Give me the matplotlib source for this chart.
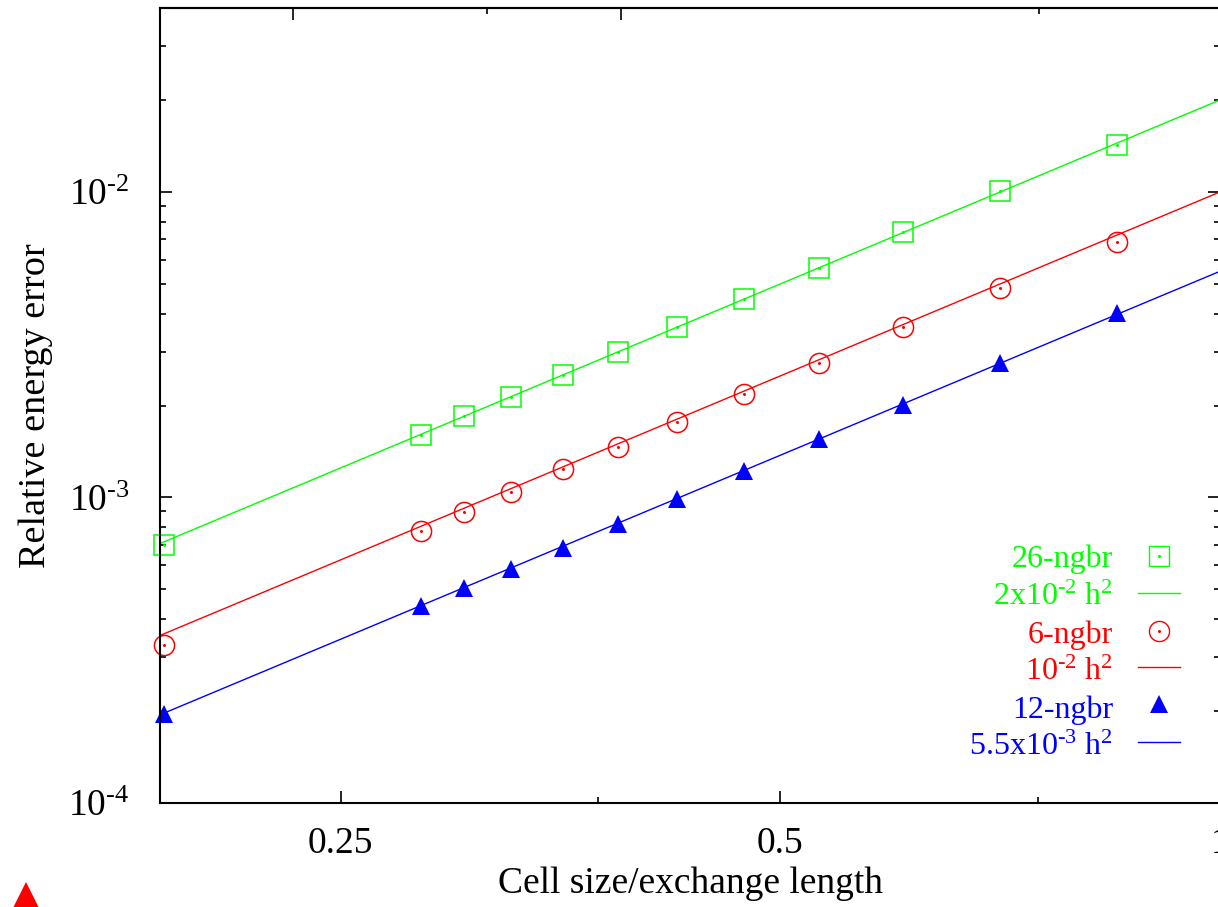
import matplotlib
matplotlib.use('Agg')
import matplotlib.pyplot as plt
from matplotlib.lines import Line2D
from matplotlib.ticker import FixedLocator, NullFormatter, LogLocator, FuncFormatter
import numpy as np

plt.rcParams['font.family'] = ['Liberation Serif', 'DejaVu Serif']
plt.rcParams['mathtext.fontset'] = 'custom'
plt.rcParams['mathtext.rm'] = 'Liberation Serif'
plt.rcParams['mathtext.it'] = 'Liberation Serif:italic'
plt.rcParams['mathtext.default'] = 'regular'
plt.rcParams['axes.unicode_minus'] = False

# cell size / exchange length
h = [0.1893, 0.2835, 0.3035, 0.327, 0.3547, 0.3868, 0.425, 0.472, 0.531, 0.607, 0.707, 0.850]
# relative energy error
err_26 = [6.99e-4, 1.603e-3, 1.849e-3, 2.133e-3, 2.518e-3, 2.993e-3, 3.615e-3, 4.46e-3, 5.64e-3, 7.40e-3, 1.008e-2, 1.425e-2]
err_6 = [3.29e-4, 7.77e-4, 8.97e-4, 1.042e-3, 1.24e-3, 1.46e-3, 1.77e-3, 2.18e-3, 2.75e-3, 3.61e-3, 4.85e-3, 6.86e-3]
err_12 = [1.955e-4, 4.41e-4, 5.06e-4, 5.83e-4, 6.84e-4, 8.19e-4, 9.89e-4, 1.22e-3, 1.553e-3, 2.01e-3, 2.76e-3, 4.02e-3]
# fit coefficients  c * h^2
c_26, c_6, c_12 = 2e-2, 1e-2, 5.5e-3

xlim = [0.188, 1.0]
ylim = [1e-4, 0.04]

GREEN, RED, BLUE = '#00ff00', '#ff0000', '#0000ff'
HY = '\u2010'  # plain hyphen for exponents (gnuplot look)

fig = plt.figure(figsize=(12.18, 9.07), dpi=100)
W, H = 1218, 907
ax = fig.add_axes([160 / W, 1 - 803 / H, 1060 / W, 795 / H])
ax.set_xscale('log')
ax.set_yscale('log')
ax.set_xlim(xlim)
ax.set_ylim(ylim)

h_line = np.array(xlim)
lw = 1.0
ax.plot(h_line, c_26 * h_line**2, color=GREEN, lw=lw)
ax.plot(h_line, c_6 * h_line**2, color=RED, lw=lw)
ax.plot(h_line, c_12 * h_line**2, color=BLUE, lw=lw)

ax.plot(h, err_26, ls='none', marker='s', ms=14.5, mfc='none', mec=GREEN, mew=1.1, clip_on=False)
ax.plot(h, err_26, ls='none', marker='o', ms=1.2, mfc=GREEN, mec=GREEN, clip_on=False)
ax.plot(h, err_6, ls='none', marker='o', ms=14.5, mfc='none', mec=RED, mew=1.1, clip_on=False)
ax.plot(h, err_6, ls='none', marker='o', ms=1.2, mfc=RED, mec=RED, clip_on=False)
ax.plot(h, err_12, ls='none', marker='^', ms=13, mfc=BLUE, mec=BLUE, mew=0, clip_on=False)

# ticks
ax.xaxis.set_major_locator(FixedLocator([0.25, 0.5, 1.0]))
ax.set_xticklabels(['0.25', '0.5', '1'])
ax.xaxis.set_minor_locator(FixedLocator([0.375, 0.75]))
ax.xaxis.set_minor_formatter(NullFormatter())
ax.yaxis.set_major_locator(LogLocator(base=10))
ax.yaxis.set_major_formatter(FuncFormatter(
    lambda v, p: r'10$^{%s%d}$' % (HY, -int(round(np.log10(v))))))
ax.yaxis.set_minor_locator(LogLocator(base=10, subs=np.arange(2, 10)))
ax.yaxis.set_minor_formatter(NullFormatter())
ax.tick_params(which='both', direction='in', top=False, right=True, width=1.2, labelsize=27)
ax.tick_params(which='major', length=8.5)
ax.tick_params(which='minor', length=4)
ax.tick_params(axis='x', pad=17)
ax.tick_params(axis='y', pad=22)

secax = ax.secondary_xaxis('top')
secax.xaxis.set_major_locator(FixedLocator([0.232, 0.389]))
secax.xaxis.set_minor_locator(FixedLocator([0.315, 0.752]))
secax.xaxis.set_major_formatter(NullFormatter())
secax.xaxis.set_minor_formatter(NullFormatter())
secax.tick_params(which='both', direction='in', width=1.2)
secax.tick_params(which='major', length=8.5)
secax.tick_params(which='minor', length=4)
secax.spines['top'].set_linewidth(1.5)

for s in ax.spines.values():
    s.set_linewidth(1.5)

ax.set_xlabel('Cell size/exchange length', fontsize=27, labelpad=4)
ax.set_ylabel('Relative energy error', fontsize=27.5, labelpad=11)


# key (drawn by hand, gnuplot style: right-aligned text, sample to the right)
def fy(py):
    return (803 - py) / 795


def fx(px):
    return (px - 160) / 1060


tkw = dict(transform=ax.transAxes, ha='right', va='baseline', fontsize=23)
ax.text(fx(1113), fy(567), '26-ngbr', color=GREEN, **tkw)
ax.text(fx(1113), fy(605), r'2x10$^{%s2}$ h$^{2}$' % HY, color=GREEN, **tkw)
ax.text(fx(1113), fy(643), '6-ngbr', color=RED, **tkw)
ax.text(fx(1113), fy(680), r'10$^{%s2}$ h$^{2}$' % HY, color=RED, **tkw)
ax.text(fx(1113), fy(718), '12-ngbr', color=BLUE, **tkw)
ax.text(fx(1113), fy(755), r'5.5x10$^{%s3}$ h$^{2}$' % HY, color=BLUE, **tkw)

lkw = dict(transform=ax.transAxes, clip_on=False)
ax.plot([fx(1159)], [fy(556)], marker='s', ms=14.5, mfc='none', mec=GREEN, mew=1.0, **lkw)
ax.plot([fx(1159)], [fy(556)], marker='o', ms=1.2, color=GREEN, **lkw)
ax.plot([fx(1138), fx(1180)], [fy(593)] * 2, color=GREEN, lw=lw, **lkw)
ax.plot([fx(1159)], [fy(631)], marker='o', ms=14.5, mfc='none', mec=RED, mew=1.0, **lkw)
ax.plot([fx(1159)], [fy(631)], marker='o', ms=1.2, color=RED, **lkw)
ax.plot([fx(1138), fx(1180)], [fy(667)] * 2, color=RED, lw=lw, **lkw)
ax.plot([fx(1159)], [fy(704)], marker='^', ms=13, color=BLUE, mew=0, **lkw)
ax.plot([fx(1138), fx(1180)], [fy(742)] * 2, color=BLUE, lw=lw, **lkw)

# stray red point symbol at the bottom-left corner of the page
fig.add_artist(Line2D([26 / W], [1 - 899 / H], marker='^', ms=25, color=RED, mew=0))

fig.savefig('out.png', dpi=100)
